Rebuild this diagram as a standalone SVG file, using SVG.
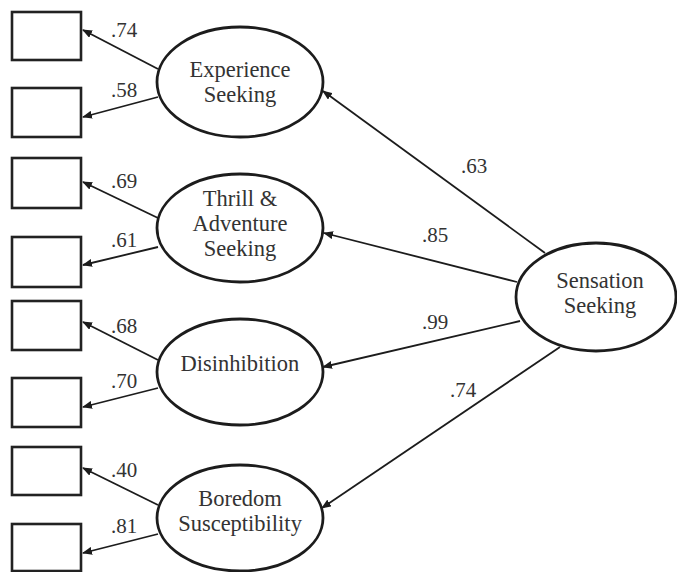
<svg xmlns="http://www.w3.org/2000/svg" width="677" height="572" viewBox="0 0 677 572">
<style>
.box{fill:#fff;stroke:#222;stroke-width:2.6}
.ell{fill:#fff;stroke:#1c1c1c;stroke-width:2.8}
.t{font-family:"Liberation Serif","Times New Roman",serif;font-size:22.5px;fill:#333;text-anchor:middle}
.lb{font-family:"Liberation Serif","Times New Roman",serif;font-size:21px;fill:#333;text-anchor:middle}
.c{stroke:#1c1c1c;stroke-width:1.8;fill:none;marker-end:url(#ah)}
</style>
<defs>
<marker id="ah" markerUnits="userSpaceOnUse" markerWidth="10" markerHeight="8" refX="9" refY="4" orient="auto">
<path d="M0,0 L10,4 L0,8 z" fill="#1c1c1c"/>
</marker>
</defs>
<rect width="677" height="572" fill="#fff"/>
<g id="connectors">
<line class="c" x1="158" y1="69" x2="83" y2="30"/>
<line class="c" x1="158" y1="97" x2="83" y2="117"/>
<line class="c" x1="158" y1="218" x2="83" y2="182"/>
<line class="c" x1="158" y1="247" x2="83" y2="265"/>
<line class="c" x1="158" y1="360" x2="83" y2="322"/>
<line class="c" x1="158" y1="388" x2="83" y2="407"/>
<line class="c" x1="158" y1="505" x2="83" y2="468"/>
<line class="c" x1="158" y1="534" x2="83" y2="553"/>
<line class="c" x1="545" y1="253" x2="323" y2="91"/>
<line class="c" x1="517" y1="282" x2="324" y2="233"/>
<line class="c" x1="520" y1="321" x2="323" y2="367"/>
<line class="c" x1="560" y1="347" x2="322" y2="508"/>
<text class="lb" x="124" y="37">.74</text>
<text class="lb" x="124" y="97">.58</text>
<text class="lb" x="124" y="188">.69</text>
<text class="lb" x="124" y="247">.61</text>
<text class="lb" x="124" y="333">.68</text>
<text class="lb" x="124" y="388">.70</text>
<text class="lb" x="124" y="477">.40</text>
<text class="lb" x="124" y="533">.81</text>
<text class="lb" x="474" y="173">.63</text>
<text class="lb" x="435" y="242">.85</text>
<text class="lb" x="435" y="329">.99</text>
<text class="lb" x="463" y="397">.74</text>
</g>
<g id="x1"><rect class="box" x="12" y="12" width="69" height="48"/></g>
<g id="x2"><rect class="box" x="12" y="88" width="69" height="49"/></g>
<g id="x3"><rect class="box" x="12" y="158" width="69" height="50"/></g>
<g id="x4"><rect class="box" x="12" y="237" width="69" height="50"/></g>
<g id="x5"><rect class="box" x="12" y="301" width="69" height="49"/></g>
<g id="x6"><rect class="box" x="12" y="378" width="69" height="49"/></g>
<g id="x7"><rect class="box" x="12" y="447" width="69" height="48"/></g>
<g id="x8"><rect class="box" x="12" y="524" width="69" height="47"/></g>
<g id="experience"><ellipse class="ell" cx="240" cy="82" rx="83" ry="55"/><text class="t" x="240" y="77">Experience</text><text class="t" x="240" y="102">Seeking</text></g>
<g id="thrill"><ellipse class="ell" cx="240" cy="228" rx="83" ry="54"/><text class="t" x="240" y="206">Thrill &amp;</text><text class="t" x="240" y="231">Adventure</text><text class="t" x="240" y="256">Seeking</text></g>
<g id="disinhibition"><ellipse class="ell" cx="240" cy="372" rx="83" ry="53"/><text class="t" x="240" y="371">Disinhibition</text></g>
<g id="boredom"><ellipse class="ell" cx="240" cy="518" rx="83" ry="53"/><text class="t" x="240" y="506">Boredom</text><text class="t" x="240" y="531">Susceptibility</text></g>
<g id="sensation"><ellipse class="ell" cx="596" cy="297" rx="80" ry="54"/><text class="t" x="600" y="288">Sensation</text><text class="t" x="600" y="313">Seeking</text></g>
</svg>
